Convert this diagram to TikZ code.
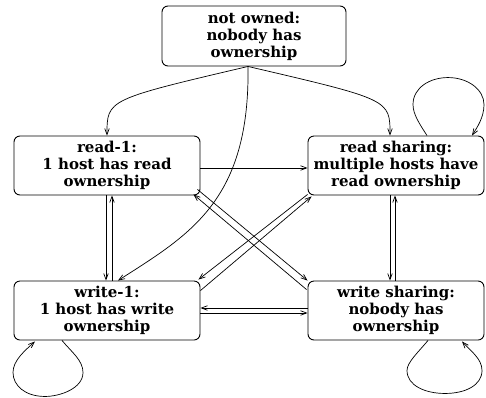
\documentclass[tikz,border=0pt]{standalone}
\usepackage{fontspec}
\setmainfont{DejaVu Serif}
\usetikzlibrary{arrows.meta,calc}
\tikzset{
  state/.style={draw, rounded corners=6pt, align=center, inner sep=0pt,
    font=\fontsize{15}{17}\selectfont\bfseries, line width=0.9pt},
  arr/.style={-{Straight Barb[length=6pt,width=4.5pt]}, line width=0.7pt},
}
\begin{document}
\begin{tikzpicture}[x=1pt,y=-1pt]
\useasboundingbox (0,0) rectangle (486,397);
\node[state, minimum width=184pt, minimum height=60pt] (no) at (254,36) {not owned:\\nobody has\\ownership};
\node[state, minimum width=186pt, minimum height=59pt] (r1) at (107,165.5) {read-1:\\1 host has read\\ownership};
\node[state, minimum width=176pt, minimum height=59pt] (rs) at (396,165.5) {read sharing:\\multiple hosts have\\read ownership};
\node[state, minimum width=186pt, minimum height=59pt] (w1) at (107,310.5) {write-1:\\1 host has write\\ownership};
\node[state, minimum width=176pt, minimum height=59pt] (ws) at (396,310.5) {write sharing:\\nobody has\\ownership};
\coordinate (s) at ($(no.south)+(-6,0)$);
% from not owned
\draw[arr] (s) .. controls ($(r1.north)+(0,-36)$) .. (r1.north);
\draw[arr] (s) .. controls ($(rs.north)+(-6,-36)$) .. ($(rs.north)+(-6,0)$);
\draw[arr] (s) .. controls ($(s)+(2,134)$) and ($(w1.north)+(83,-46)$) .. ($(w1.north)+(11,0)$);
% read-1 -> read sharing
\draw[arr] ($(r1.east)+(0,2.5)$) -- ($(rs.west)+(0,2.5)$);
% read-1 <-> write-1
\draw[arr] ($(r1.south)+(-1,0)$) -- ($(w1.north)+(-1,0)$);
\draw[arr] ($(w1.north)+(5,0)$) -- ($(r1.south)+(5,0)$);
% read sharing <-> write sharing
\draw[arr] ($(rs.south)+(-6,0)$) -- ($(ws.north)+(-6,0)$);
\draw[arr] ($(ws.north)+(-1,0)$) -- ($(rs.south)+(-1,0)$);
% write-1 <-> write sharing
\draw[arr] ($(ws.west)+(0,-2.5)$) -- ($(w1.east)+(0,-2.5)$);
\draw[arr] ($(w1.east)+(0,2.5)$) -- ($(ws.west)+(0,2.5)$);
% diagonals
\draw[arr] ($(r1.south east)+(-3,-6)$) -- (ws.north west);
\draw[arr] ($(ws.north west)+(-1,9)$) -- ($(r1.south east)+(-7,-1)$);
\draw[arr] ($(rs.south west)+(0,-1)$) -- ($(w1.north east)+(-2,-1)$);
\draw[arr] ($(w1.north east)+(0,10)$) -- ($(rs.south west)+(4,1)$);
% loops
\draw[arr] ($(rs.north)+(31,0)$) .. controls ($(rs.north)+(24,-11)$) and ($(rs.north)+(17,-21)$) .. ($(rs.north)+(17,-31)$)
  .. controls ($(rs.north)+(17,-48)$) and ($(rs.north)+(34,-58)$) .. ($(rs.north)+(52,-58)$)
  .. controls ($(rs.north)+(72,-58)$) and ($(rs.north)+(88,-46)$) .. ($(rs.north)+(88,-31)$)
  .. controls ($(rs.north)+(88,-18)$) and ($(rs.north)+(81,-8)$) .. ($(rs.north)+(76,0)$);
\draw[arr] ($(w1.south)+(-45,0)$) .. controls ($(w1.south)+(-35,12)$) and ($(w1.south)+(-24,20)$) .. ($(w1.south)+(-24,32)$)
  .. controls ($(w1.south)+(-24,48)$) and ($(w1.south)+(-47,56)$) .. ($(w1.south)+(-62,56)$)
  .. controls ($(w1.south)+(-82,56)$) and ($(w1.south)+(-94,45)$) .. ($(w1.south)+(-94,32)$)
  .. controls ($(w1.south)+(-94,20)$) and ($(w1.south)+(-82,10)$) .. ($(w1.south)+(-72,1)$);
\draw[arr] ($(ws.south)+(32,0)$) .. controls ($(ws.south)+(22,12)$) and ($(ws.south)+(11,22)$) .. ($(ws.south)+(11,30)$)
  .. controls ($(ws.south)+(11,45)$) and ($(ws.south)+(29,53)$) .. ($(ws.south)+(49,53)$)
  .. controls ($(ws.south)+(69,53)$) and ($(ws.south)+(86,45)$) .. ($(ws.south)+(86,30)$)
  .. controls ($(ws.south)+(86,18)$) and ($(ws.south)+(74,10)$) .. ($(ws.south)+(66,1)$);
\end{tikzpicture}
\end{document}
